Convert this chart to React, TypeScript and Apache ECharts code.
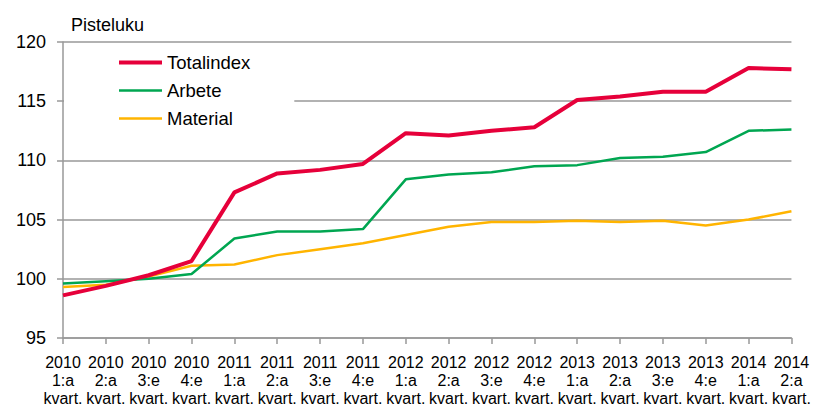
import React, { useEffect, useRef } from "react";
import * as echarts from "echarts";

const years = ["2010","2010","2010","2010","2011","2011","2011","2011","2012","2012","2012","2012","2013","2013","2013","2013","2014","2014"];
const quarters = ["1:a","2:a","3:e","4:e","1:a","2:a","3:e","4:e","1:a","2:a","3:e","4:e","1:a","2:a","3:e","4:e","1:a","2:a"];
const categories = years.map((y, i) => `${y}\n${quarters[i]}\nkvart.`);

const totalindex = [98.6, 99.4, 100.3, 101.5, 107.3, 108.9, 109.2, 109.7, 112.3, 112.1, 112.5, 112.8, 115.1, 115.4, 115.8, 115.8, 117.8, 117.7];
const arbete = [99.6, 99.8, 100.0, 100.4, 103.4, 104.0, 104.0, 104.2, 108.4, 108.8, 109.0, 109.5, 109.6, 110.2, 110.3, 110.7, 112.5, 112.6];
const material = [99.3, 99.5, 100.2, 101.1, 101.2, 102.0, 102.5, 103.0, 103.7, 104.4, 104.8, 104.8, 104.9, 104.8, 104.9, 104.5, 105.0, 105.7];

const yTitle = "Pisteluku";
const FONT = "'Liberation Sans', Arial, sans-serif";

export default function App() {
  const ref = useRef<HTMLDivElement>(null);
  useEffect(() => {
    if (!ref.current) return;
    const chart = echarts.init(ref.current, null, { renderer: "svg" });
    chart.setOption({
      animation: false,
      textStyle: { fontFamily: FONT },
      grid: { left: 63, right: 22, top: 42, bottom: 68 },
      graphic: [
        {
          type: "text",
          left: 71,
          top: 16,
          style: { text: yTitle, fontSize: 18, fontFamily: FONT, fill: "#000" },
        },
      ],
      legend: {
        orient: "vertical",
        left: 64,
        top: 50,
        padding: [3, 44, 3, 53],
        backgroundColor: "#fff",
        itemWidth: 43,
        itemHeight: 14,
        itemGap: 9,
        itemStyle: { color: "rgba(0,0,0,0)", borderWidth: 0, borderColor: "rgba(0,0,0,0)" },
        lineStyle: { width: "inherit" },
        textStyle: { fontSize: 18.5, fontFamily: FONT, color: "#000", lineHeight: 18 },
        data: ["Totalindex", "Arbete", "Material"],
      },
      xAxis: {
        type: "category",
        data: categories,
        boundaryGap: false,
        axisLine: { lineStyle: { color: "#999", width: 1.5 } },
        axisTick: { show: true, length: 6, alignWithLabel: true, lineStyle: { color: "#999", width: 1.5 } },
        axisLabel: {
          interval: 0,
          margin: 15,
          fontSize: 16,
          lineHeight: 18,
          color: "#000",
          fontFamily: FONT,
        },
      },
      yAxis: {
        type: "value",
        min: 95,
        max: 120,
        interval: 5,
        axisLine: { show: true, lineStyle: { color: "#999", width: 1.5 } },
        axisTick: { show: true, length: 6, lineStyle: { color: "#999", width: 1.5 } },
        axisLabel: { fontSize: 18, color: "#000", margin: 17, fontFamily: FONT },
        splitLine: { show: true, lineStyle: { color: "#999", width: 1.5 } },
      },
      series: [
        {
          name: "Totalindex",
          type: "line",
          data: totalindex,
          symbol: "none",
          z: 5,
          lineStyle: { color: "#e6003a", width: 4 },
          itemStyle: { color: "#e6003a" },
        },
        {
          name: "Arbete",
          type: "line",
          data: arbete,
          symbol: "none",
          z: 4,
          lineStyle: { color: "#00a651", width: 2.5 },
          itemStyle: { color: "#00a651" },
        },
        {
          name: "Material",
          type: "line",
          data: material,
          symbol: "none",
          z: 3,
          lineStyle: { color: "#ffb400", width: 2.5 },
          itemStyle: { color: "#ffb400" },
        },
      ],
    });
    return () => chart.dispose();
  }, []);
  return <div ref={ref} style={{ width: 814, height: 407, position: "absolute", left: 0, top: 0 }} />;
}
